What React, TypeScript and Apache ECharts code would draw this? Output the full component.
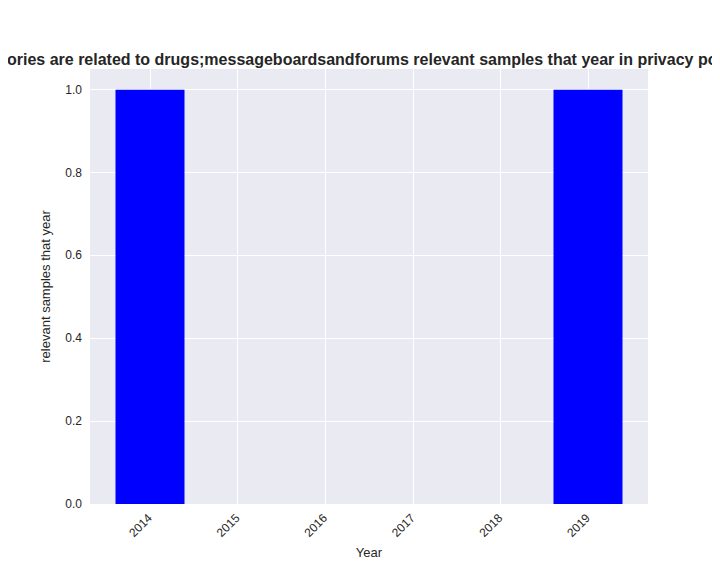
import React, { useEffect, useRef } from 'react';
import * as echarts from 'echarts';

const years = [2014, 2015, 2016, 2017, 2018, 2019];
const counts = [1, 0, 0, 0, 0, 1];
const yTicks = [0, 0.2, 0.4, 0.6, 0.8, 1.0];
const titleText = 'Categories are related to drugs;messageboardsandforums relevant samples that year in privacy policies';

const App: React.FC = () => {
  const ref = useRef<HTMLDivElement>(null);

  useEffect(() => {
    if (!ref.current) return;
    const chart = echarts.init(ref.current, null, { renderer: 'svg' });
    const font = 'Liberation Sans, Arial, sans-serif';
    chart.setOption({
      animation: false,
      textStyle: { fontFamily: font },
      title: {
        text: titleText,
        left: 'center',
        top: 46,
        textStyle: { fontSize: 16, fontWeight: 'bold', color: '#262626', fontFamily: font },
      },
      grid: {
        left: 90, right: 72, top: 69, bottom: 72,
        show: true, backgroundColor: '#eaeaf2', borderWidth: 0,
      },
      xAxis: {
        type: 'value',
        min: 2013.315,
        max: 2019.685,
        name: 'Year',
        nameLocation: 'middle',
        nameGap: 42,
        nameTextStyle: { fontSize: 13, color: '#262626' },
        axisLine: { show: false },
        axisTick: { show: false, customValues: years },
        axisLabel: { customValues: years, rotate: 45, fontSize: 12, color: '#262626', margin: 12, formatter: (v: number) => String(v) },
        splitLine: { show: true, lineStyle: { color: '#ffffff', width: 1 } },
      },
      yAxis: {
        type: 'value',
        min: 0,
        max: 1.05,
        name: 'relevant samples that year',
        nameLocation: 'middle',
        nameGap: 38,
        nameTextStyle: { fontSize: 13, color: '#262626' },
        axisLine: { show: false },
        axisTick: { show: false, customValues: yTicks },
        axisLabel: { customValues: yTicks, fontSize: 12, color: '#262626', formatter: (v: number) => v.toFixed(1) },
        splitLine: { show: true, lineStyle: { color: '#ffffff', width: 1 } },
      },
      series: [{
        type: 'bar',
        data: years.map((y, i) => [y, counts[i]]),
        barWidth: 69,
        itemStyle: { color: '#0000ff' },
      }],
    });
    return () => chart.dispose();
  }, []);

  return <div ref={ref} style={{ width: 720, height: 576, margin: -8 }} />;
};

export default App;
